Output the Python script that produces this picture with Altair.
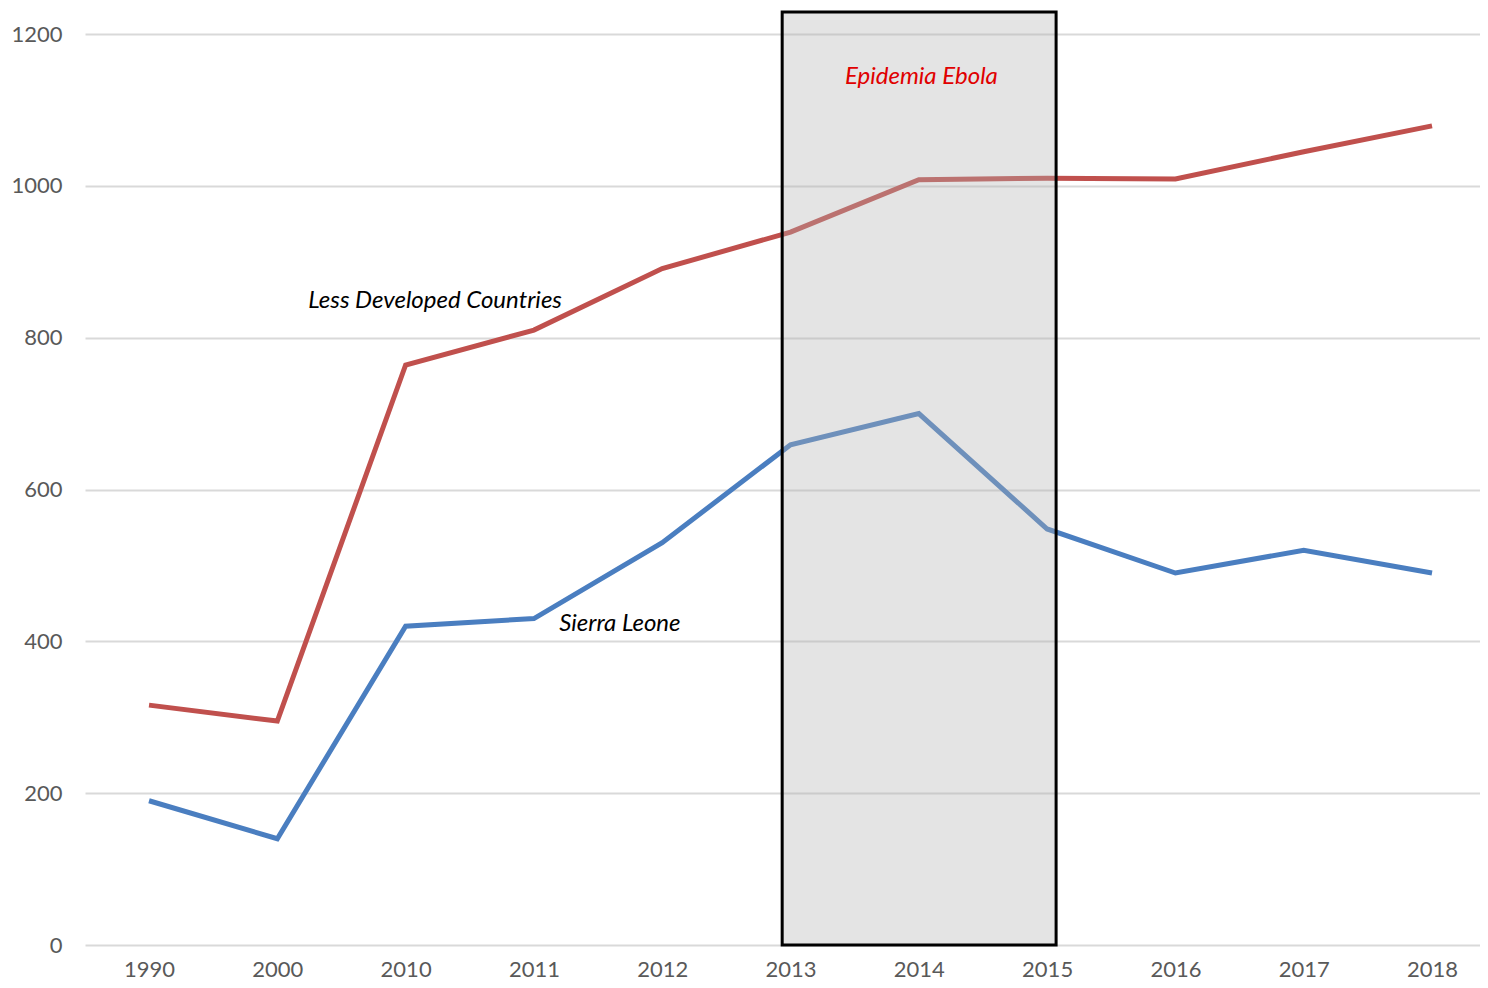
import altair as alt
import pandas as pd

years = ["1990", "2000", "2010", "2011", "2012", "2013", "2014", "2015", "2016", "2017", "2018"]
ldc = [316, 295, 764, 810, 891, 939, 1008, 1010, 1009, 1045, 1079]
sierra = [190, 140, 420, 430, 530, 659, 700, 548, 490, 520, 490]

series_names = ["Less Developed Countries", "Sierra Leone"]
series_colors = ["#C0504D", "#4A7EC0"]

# Epidemic period (in category-index units, 2013 = 5, 2015 = 7)
epi_start = [4.935]
epi_end = [7.07]
epi_top = [1229]

ann_text = ["Epidemia Ebola", "Less Developed Countries", "Sierra Leone"]
ann_x = [6.02, 2.23, 3.67]
ann_y = [1143, 848, 423]
ann_color = ["#E00000", "#000000", "#000000"]

rows = []
for i, y in enumerate(years):
    rows.append({"idx": i, "year": y, "series": series_names[0], "value": ldc[i]})
    rows.append({"idx": i, "year": y, "series": series_names[1], "value": sierra[i]})
df = pd.DataFrame(rows)

rect_df = pd.DataFrame({"x": epi_start, "x2": epi_end, "y": [0], "y2": epi_top})
ann_df = pd.DataFrame({"text": ann_text, "x": ann_x, "y": ann_y, "color": ann_color})

label_expr = "[" + ",".join("'" + y + "'" for y in years) + "][datum.value]"

xscale = alt.Scale(domain=[-0.499, 10.374], nice=False, zero=False)
yscale = alt.Scale(domain=[0, 1229], nice=False)

x_axis = alt.Axis(values=list(range(len(years))), labelExpr=label_expr, grid=False,
                  domain=False, ticks=False, labelPadding=14, labelFontSize=22,
                  labelColor="#595959", labelFont="Lato", title=None)
y_axis = alt.Axis(values=[0, 200, 400, 600, 800, 1000, 1200], format="d", grid=True,
                  gridColor="#d9d9d9", gridWidth=2, domain=False, ticks=False,
                  labelPadding=23, labelFontSize=22, labelColor="#595959",
                  labelFont="Lato", title=None)

lines = alt.Chart(df).mark_line(strokeWidth=5).encode(
    x=alt.X("idx:Q", scale=xscale, axis=x_axis),
    y=alt.Y("value:Q", scale=yscale, axis=y_axis),
    color=alt.Color("series:N", scale=alt.Scale(domain=series_names, range=series_colors), legend=None),
    detail="series:N",
)

rect = alt.Chart(rect_df).mark_rect(fill="#b2b2b2", fillOpacity=0.35, stroke="#000000",
                                    strokeWidth=3, strokeOpacity=1).encode(
    x=alt.X("x:Q", scale=xscale), x2="x2:Q",
    y=alt.Y("y:Q", scale=yscale), y2="y2:Q",
)

texts = alt.Chart(ann_df).mark_text(fontSize=24, font="Lato", fontStyle="italic",
                                    baseline="middle", align="center").encode(
    x=alt.X("x:Q", scale=xscale),
    y=alt.Y("y:Q", scale=yscale),
    text="text:N",
    color=alt.Color("color:N", scale=None),
)

chart = alt.layer(lines, rect, texts).properties(
    width=1395, height=933,
    autosize=alt.AutoSizeParams(type="none"),
    padding={"left": 77, "top": 4, "right": 0, "bottom": 35},
    background="white",
).configure_view(stroke=None)

chart.save("out.html", embed_options={"renderer": "svg", "actions": False})
